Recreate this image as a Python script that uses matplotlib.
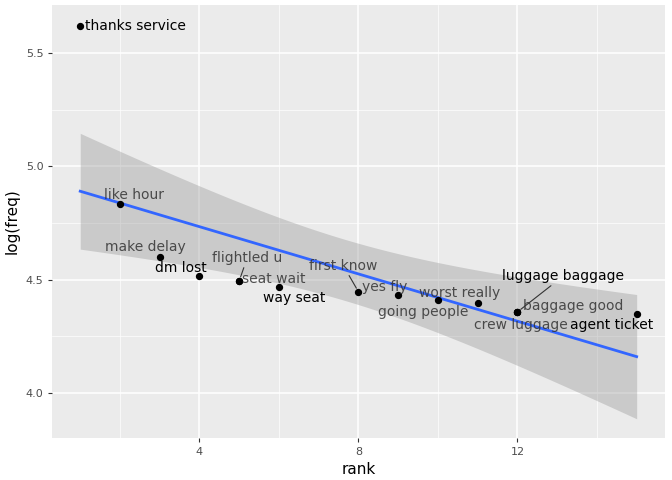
import numpy as np
import matplotlib
matplotlib.use("Agg")
import matplotlib.pyplot as plt

labels = ["thanks service", "like hour", "make delay", "dm lost", "flightled u", "seat wait",
          "way seat", "first know", "yes fly", "going people", "worst really", "crew luggage",
          "luggage baggage", "baggage good", "agent ticket"]
rank = np.array([1, 2, 3, 4, 5, 5, 6, 8, 9, 10, 11, 12, 12, 12, 15])
logfreq = np.array([5.619, 4.834, 4.600, 4.516, 4.494, 4.494, 4.468, 4.446, 4.432, 4.410,
                    4.397, 4.357, 4.357, 4.357, 4.350])
black = {"thanks service", "dm lost", "way seat", "luggage baggage", "agent ticket"}
# label offsets in pixels (dx, dy), plus whether to draw a segment
offsets = [(5, 0), (14, 9), (-14, 10), (-19, 8), (8, 23), (35, 2), (15, -11), (-15, 26),
           (-14, 8), (-15, -12), (-18, 10), (3, -13), (46, 36), (56, 6), (-25, -11)]
segs = {"flightled u", "first know", "luggage baggage"}

fig, ax = plt.subplots(figsize=(6.72, 4.8), dpi=100)
fig.subplots_adjust(left=0.078, right=0.99, top=0.99, bottom=0.088)
ax.set_facecolor("#EBEBEB")
for s in ax.spines.values():
    s.set_visible(False)

# linear fit with 95% confidence band
n = len(rank)
b, a = np.polyfit(rank, logfreq, 1)
xs = np.linspace(rank.min(), rank.max(), 100)
resid = logfreq - (a + b * rank)
s_err = np.sqrt(np.sum(resid ** 2) / (n - 2))
sxx = np.sum((rank - rank.mean()) ** 2)
se = s_err * np.sqrt(1 / n + (xs - rank.mean()) ** 2 / sxx)
t = 2.160
ax.fill_between(xs, a + b * xs - t * se, a + b * xs + t * se, color="#999999", alpha=0.4, lw=0, zorder=2)
ax.plot(xs, a + b * xs, color="#3366FF", lw=2, zorder=3)

ax.scatter(rank, logfreq, s=18, color="black", zorder=4)
for lab, x, y, (dx, dy) in zip(labels, rank, logfreq, offsets):
    c = "black" if lab in black else "#333333"
    al = 1.0 if lab in black else 0.85
    ap = dict(arrowstyle="-", color="#333333", lw=0.8, shrinkA=0, shrinkB=3) if lab in segs else None
    ax.annotate(lab, (x, y), xytext=(dx * 0.72, -dy * 0.72 * -1 if False else dy * 0.72),
                textcoords="offset points", ha="left" if lab == "thanks service" else "center",
                va="center", fontsize=10, color=c, alpha=al, arrowprops=ap, zorder=5)

ax.set_xlim(0.3, 15.72)
ax.set_ylim(3.802, 5.712)
ax.set_xticks([4, 8, 12])
ax.set_yticks([4.0, 4.5, 5.0, 5.5])
ax.set_xticks([2, 6, 10, 14], minor=True)
ax.set_yticks([4.25, 4.75, 5.25], minor=True)
ax.grid(True, which="major", color="white", lw=1.1, zorder=0)
ax.grid(True, which="minor", color="white", lw=0.5, zorder=0)
ax.set_axisbelow(True)
ax.tick_params(which="both", length=3, color="#333333", labelsize=8, labelcolor="#4D4D4D")
ax.tick_params(which="minor", length=0)
ax.set_xlabel("rank", fontsize=11)
ax.set_ylabel("log(freq)", fontsize=11)

fig.savefig("out.png")
